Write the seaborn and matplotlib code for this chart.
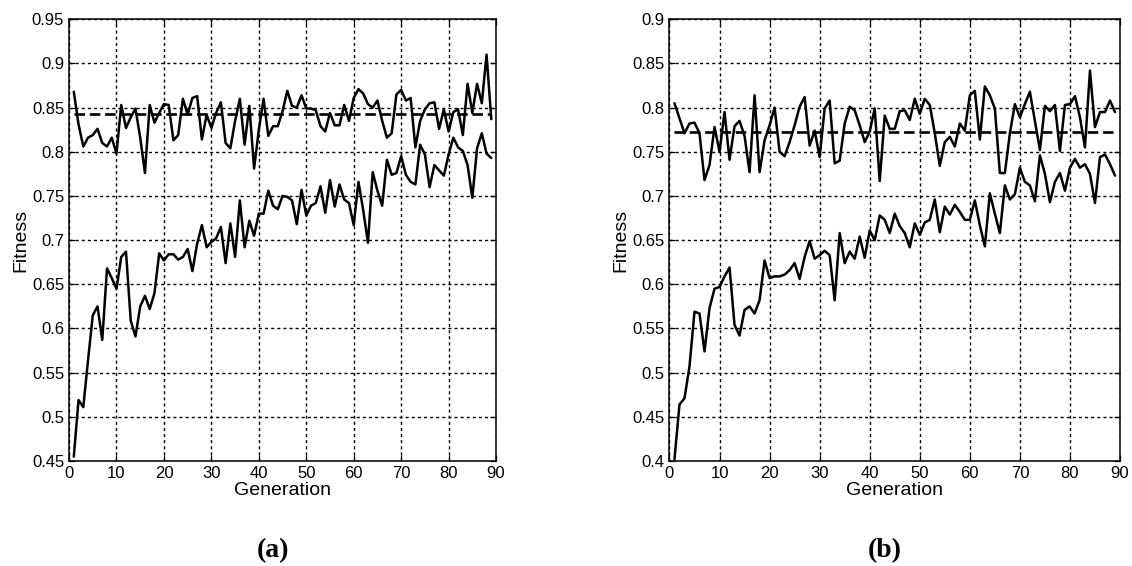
import matplotlib
matplotlib.use('Agg')
import matplotlib.pyplot as plt
import matplotlib.ticker as mticker
import numpy as np
import seaborn as sns

generation = list(range(1, 90))

# panel (a)
best_a = [0.868, 0.831, 0.806, 0.816, 0.819, 0.826, 0.810, 0.806, 0.816, 0.798,
          0.853, 0.827, 0.839, 0.849, 0.816, 0.776, 0.853, 0.833, 0.844, 0.854,
          0.853, 0.813, 0.819, 0.860, 0.842, 0.861, 0.863, 0.814, 0.842, 0.827,
          0.844, 0.856, 0.810, 0.804, 0.835, 0.860, 0.808, 0.852, 0.781, 0.825,
          0.860, 0.818, 0.829, 0.829, 0.846, 0.869, 0.852, 0.850, 0.864, 0.849,
          0.849, 0.847, 0.829, 0.823, 0.844, 0.830, 0.830, 0.853, 0.835, 0.861,
          0.871, 0.866, 0.854, 0.850, 0.858, 0.835, 0.816, 0.821, 0.865, 0.870,
          0.858, 0.861, 0.805, 0.835, 0.848, 0.855, 0.856, 0.826, 0.848, 0.823,
          0.845, 0.848, 0.819, 0.877, 0.844, 0.877, 0.855, 0.910, 0.837]
mean_a = [0.455, 0.519, 0.511, 0.564, 0.615, 0.625, 0.587, 0.668, 0.657, 0.645,
          0.681, 0.687, 0.609, 0.591, 0.625, 0.637, 0.622, 0.640, 0.685, 0.677,
          0.684, 0.684, 0.678, 0.681, 0.690, 0.665, 0.696, 0.717, 0.692, 0.698,
          0.702, 0.715, 0.674, 0.719, 0.681, 0.745, 0.692, 0.722, 0.705, 0.730,
          0.730, 0.756, 0.739, 0.735, 0.750, 0.749, 0.745, 0.718, 0.757, 0.728,
          0.739, 0.742, 0.761, 0.731, 0.768, 0.738, 0.763, 0.746, 0.742, 0.717,
          0.766, 0.734, 0.697, 0.777, 0.756, 0.739, 0.791, 0.774, 0.776, 0.795,
          0.774, 0.766, 0.763, 0.808, 0.797, 0.760, 0.785, 0.779, 0.773, 0.797,
          0.816, 0.805, 0.801, 0.785, 0.748, 0.804, 0.821, 0.798, 0.793]
ref_a = 0.843

# panel (b)
best_b = [0.805, 0.788, 0.771, 0.782, 0.783, 0.771, 0.718, 0.735, 0.778, 0.750,
          0.795, 0.741, 0.779, 0.785, 0.768, 0.727, 0.814, 0.727, 0.763, 0.780,
          0.800, 0.750, 0.745, 0.761, 0.780, 0.801, 0.812, 0.757, 0.774, 0.744,
          0.799, 0.808, 0.737, 0.740, 0.782, 0.801, 0.797, 0.780, 0.761, 0.773,
          0.799, 0.717, 0.791, 0.776, 0.776, 0.796, 0.797, 0.786, 0.810, 0.793,
          0.810, 0.803, 0.771, 0.734, 0.761, 0.767, 0.756, 0.782, 0.774, 0.814,
          0.819, 0.764, 0.824, 0.814, 0.799, 0.726, 0.726, 0.771, 0.804, 0.789,
          0.804, 0.818, 0.785, 0.752, 0.802, 0.796, 0.803, 0.751, 0.803, 0.804,
          0.813, 0.789, 0.755, 0.842, 0.778, 0.795, 0.795, 0.808, 0.795]
mean_b = [0.402, 0.464, 0.471, 0.507, 0.569, 0.567, 0.524, 0.573, 0.595, 0.597,
          0.609, 0.619, 0.554, 0.542, 0.571, 0.575, 0.567, 0.582, 0.627, 0.607,
          0.609, 0.609, 0.611, 0.616, 0.624, 0.606, 0.631, 0.649, 0.629, 0.633,
          0.638, 0.633, 0.582, 0.658, 0.624, 0.637, 0.629, 0.654, 0.630, 0.661,
          0.650, 0.678, 0.673, 0.658, 0.680, 0.666, 0.658, 0.642, 0.669, 0.656,
          0.670, 0.673, 0.696, 0.659, 0.688, 0.679, 0.690, 0.682, 0.673, 0.673,
          0.695, 0.667, 0.643, 0.703, 0.680, 0.658, 0.712, 0.696, 0.702, 0.732,
          0.716, 0.712, 0.694, 0.746, 0.725, 0.693, 0.716, 0.726, 0.706, 0.732,
          0.742, 0.732, 0.736, 0.725, 0.692, 0.744, 0.747, 0.736, 0.723]
ref_b = 0.772

sns.set_theme(style='ticks')
plt.rcParams['font.family'] = ['Liberation Sans', 'DejaVu Sans']
plt.rcParams['text.color'] = 'black'
plt.rcParams['axes.labelcolor'] = 'black'

fig = plt.figure(figsize=(11.32, 5.66), dpi=100)
ax_a = fig.add_axes([0.0610, 0.1855, 0.3772, 0.7804])
ax_b = fig.add_axes([0.5914, 0.1855, 0.3980, 0.7804])

panels = [
    (ax_a, best_a, mean_a, ref_a, (0.45, 0.95), '(a)', 0.241),
    (ax_b, best_b, mean_b, ref_b, (0.40, 0.90), '(b)', 0.782),
]

for ax, best, mean, ref, ylim, tag, tag_x in panels:
    sns.lineplot(x=generation, y=best, ax=ax, color='black', lw=1.8, errorbar=None)
    sns.lineplot(x=generation, y=mean, ax=ax, color='black', lw=1.8, errorbar=None)
    ref_line = [ref] * len(generation)
    sns.lineplot(x=generation, y=ref_line, ax=ax, color='black', lw=1.9,
                 errorbar=None)
    ax.lines[-1].set_dashes((4.0, 1.8))

    ax.set_xlim(0, 90)
    ax.set_ylim(*ylim)
    ax.set_xticks(np.arange(0, 91, 10))
    ax.set_yticks(np.arange(ylim[0], ylim[1] + 0.001, 0.05))
    ax.yaxis.set_major_formatter(mticker.FuncFormatter(lambda v, p: '%g' % round(v, 2)))
    ax.grid(True, color='black', lw=1.0, linestyle=(0, (2.2, 2.2)))
    ax.tick_params(direction='in', length=4, width=0.9, labelsize=12, pad=3.5,
                   top=True, right=True, colors='black')
    for s in ax.spines.values():
        s.set_color('black')
        s.set_linewidth(1.1)
    ax.set_xlabel('Generation', fontsize=14, labelpad=1, color='black')
    ax.set_ylabel('Fitness', fontsize=14, labelpad=2, color='black')
    fig.text(tag_x, 0.028, tag, ha='center', va='center', fontsize=20,
             fontweight='bold', family='Liberation Serif', color='black')

fig.savefig('out.png', dpi=100, facecolor='white')
